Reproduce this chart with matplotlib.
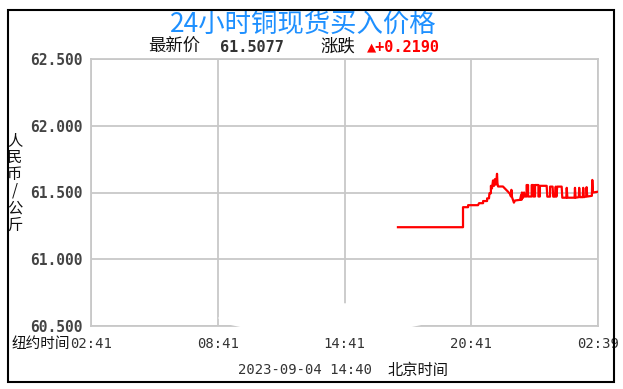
import matplotlib
matplotlib.use('Agg')
import matplotlib.pyplot as plt
from matplotlib.patches import Rectangle, Ellipse

# time in hours after 02:41 New York time, price in 元/公斤
t = [14.53, 17.61, 17.61, 17.85, 17.85, 18.32, 18.37, 18.56, 18.56, 18.75,
     18.75, 18.84, 18.86, 18.93, 18.93, 18.98, 19.03, 19.08, 19.12, 19.17,
     19.22, 19.24, 19.27, 19.50, 19.74, 19.83, 19.88, 19.90, 19.93, 20.02,
     20.07, 20.31, 20.36, 20.38, 20.40, 20.45, 20.50, 20.54, 20.62, 20.62,
     20.69, 20.69, 20.86, 20.86, 20.94, 20.94, 21.02, 21.02, 21.18, 21.18,
     21.25, 21.25, 21.57, 21.60, 21.73, 21.73, 21.85, 21.88, 21.96, 22.00,
     22.03, 22.07, 22.28, 22.31, 22.50, 22.52, 22.55, 22.89, 22.91, 22.94,
     23.09, 23.11, 23.14, 23.28, 23.30, 23.33, 23.44, 23.46, 23.49, 23.71,
     23.73, 23.76, 24.00]
p = [61.24, 61.24, 61.39, 61.39, 61.405, 61.405, 61.42, 61.42, 61.436, 61.436,
     61.456, 61.456, 61.494, 61.494, 61.55, 61.53, 61.59, 61.55, 61.60, 61.56,
     61.64, 61.57, 61.545, 61.545, 61.506, 61.49, 61.47, 61.52, 61.465, 61.424,
     61.44, 61.445, 61.48, 61.445, 61.50, 61.46, 61.50, 61.47, 61.47, 61.556,
     61.556, 61.47, 61.47, 61.556, 61.556, 61.47, 61.47, 61.556, 61.556, 61.47,
     61.47, 61.55, 61.55, 61.469, 61.469, 61.544, 61.544, 61.469, 61.469, 61.544,
     61.469, 61.544, 61.544, 61.461, 61.461, 61.535, 61.461, 61.461, 61.535, 61.461,
     61.465, 61.535, 61.465, 61.465, 61.535, 61.465, 61.47, 61.54, 61.47, 61.475,
     61.594, 61.50, 61.506]

xticks = [0, 6, 12, 18, 24]
xlabels = ['02:41', '08:41', '14:41', '20:41', '02:39']
yticks = [60.5, 61.0, 61.5, 62.0, 62.5]
ylabels = ['60.500', '61.000', '61.500', '62.000', '62.500']

title = '24小时铜现货买入价格'
latest = '61.5077'
change = '▲+0.2190'

W, H = 623, 389
fig = plt.figure(figsize=(W / 100, H / 100), dpi=100)
fig.patch.set_facecolor('white')

def fx(x):
    return x / W

def fy(y):
    return 1 - y / H

mono = ['DejaVu Sans Mono', 'Noto Sans CJK SC']
cjk = ['Noto Sans CJK SC', 'DejaVu Sans']

ax = fig.add_axes([fx(91), fy(326), (598 - 91) / W, (326 - 59) / H])
ax.plot(t, p, color='#ff0000', linewidth=1.6, zorder=3)
ax.set_xlim(0, 24)
ax.set_ylim(60.5, 62.5)
ax.set_xticks(xticks)
ax.set_xticklabels(xlabels, fontfamily=mono, fontsize=10, color='#333333')
ax.set_yticks(yticks)
ax.set_yticklabels(ylabels, fontfamily=mono, fontsize=10.5, fontweight='bold', color='#444444')
ax.tick_params(length=0, pad=6)
ax.tick_params(axis='x', pad=8)
ax.grid(True, color='#c8c8c8', linewidth=1.3)
for s in ax.spines.values():
    s.set_color('#c8c8c8')
    s.set_linewidth(1.3)

# white watermark blob over the bottom of the plot
fig.add_artist(Ellipse((fx(326), fy(318)), 215 / W, 30 / H, transform=fig.transFigure,
                       facecolor='white', edgecolor='none', zorder=5))

# outer border
fig.add_artist(Rectangle((fx(8), fy(382)), 606 / W, 372 / H, transform=fig.transFigure,
                         fill=False, edgecolor='black', linewidth=1.5, zorder=6))

fig.text(fx(303), fy(24), title, ha='center', va='center', fontsize=19,
         color='#1e90ff', family=cjk, fontweight='medium')
fig.text(fx(148), fy(47), '最新价', ha='left', va='center', fontsize=12.5, family=cjk, color='#111111')
fig.text(fx(220), fy(47), latest, ha='left', va='center', fontsize=11, family=mono,
         fontweight='bold', color='#333333')
fig.text(fx(320), fy(47), '涨跌', ha='left', va='center', fontsize=12.5, family=cjk, color='#111111')
fig.text(fx(367), fy(47), change, ha='left', va='center', fontsize=11, family=mono,
         fontweight='bold', color='#ff0000')

fig.text(fx(15), fy(183), '\n'.join('人民币/公斤'), ha='center', va='center', fontsize=11,
         family=cjk, linespacing=1.0, color='#111111')
fig.text(fx(70), fy(344), '纽约时间', ha='right', va='center', fontsize=10.5, family=cjk, color='#111111')
fig.text(fx(238), fy(370), '2023-09-04 14:40', ha='left', va='center', fontsize=10,
         family=mono, color='#333333')
fig.text(fx(388), fy(370), '北京时间', ha='left', va='center', fontsize=11, family=cjk, color='#111111')

fig.savefig('out.png', dpi=100)
